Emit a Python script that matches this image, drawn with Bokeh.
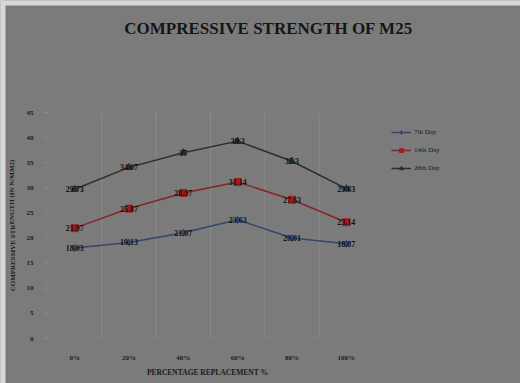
from bokeh.plotting import figure
from bokeh.models import (Range1d, Legend, LegendItem, Label,
                          ColumnDataSource, LabelSet, BoxAnnotation)
from bokeh.embed import file_html
from bokeh.resources import INLINE

categories = ["0%", "20%", "40%", "60%", "80%", "100%"]
day7 = [18.03, 19.13, 21.07, 23.63, 20.01, 18.87]
day14 = [21.97, 25.87, 28.97, 31.14, 27.63, 23.14]
day28 = [29.73, 34.07, 37.0, 39.3, 35.3, 29.83]
series_names = ["7th Day", "14th Day", "28th Day"]
y_ticks = [0, 5, 10, 15, 20, 25, 30, 35, 40, 45]

BG = "#7b7b7b"
n = len(categories)
ymax = y_ticks[-1]
xs = [i + 0.5 for i in range(n)]

W, H = 520, 383
# plot area placement on the canvas (pixels)
AL, AR, AT, AB = 47, 373, 112, 338
sx = (AR - AL) / n
sy = (AB - AT) / ymax

p = figure(width=W, height=H, output_backend="svg", toolbar_location=None,
           x_range=Range1d(-AL / sx, (W - AL) / sx),
           y_range=Range1d(-(H - AB) / sy, AB / sy),
           min_border=0)
p.axis.visible = False
p.background_fill_color = BG
p.border_fill_color = BG
p.outline_line_color = None
p.grid.grid_line_color = None

# light edge strips of the original image
p.add_layout(BoxAnnotation(left=0, right=5, bottom=0, top=H, left_units="screen",
                           right_units="screen", bottom_units="screen", top_units="screen",
                           fill_color="#d8d8d8", fill_alpha=1, line_color=None))
p.add_layout(BoxAnnotation(left=0, right=W, bottom=H - 5, top=H, left_units="screen",
                           right_units="screen", bottom_units="screen", top_units="screen",
                           fill_color="#d8d8d8", fill_alpha=1, line_color=None))

# plot-area border
p.add_layout(BoxAnnotation(left=0, right=n, bottom=0, top=ymax, fill_alpha=0,
                           line_color="#878787", line_width=1))
# category boundary gridlines
bounds = list(range(1, n))
p.segment(x0=bounds, y0=[0] * len(bounds), x1=bounds, y1=[ymax] * len(bounds),
          line_color="#898989", line_width=1)
# y tick marks
p.segment(x0=[0] * len(y_ticks), y0=y_ticks, x1=[-3 / sx] * len(y_ticks), y1=y_ticks,
          line_color="#8e8e8e", line_width=1)

# tick labels
ysrc = ColumnDataSource(dict(x=[0] * len(y_ticks), y=y_ticks, t=[str(v) for v in y_ticks]))
p.add_layout(LabelSet(x="x", y="y", text="t", source=ysrc, x_offset=-14,
                      text_align="right", text_baseline="middle",
                      text_font="Liberation Serif", text_font_size="7px",
                      text_font_style="bold", text_color="#1a1a1a"))
xsrc = ColumnDataSource(dict(x=xs, y=[0] * n, t=categories))
p.add_layout(LabelSet(x="x", y="y", text="t", source=xsrc, y_offset=-19,
                      text_align="center", text_baseline="middle",
                      text_font="Liberation Serif", text_font_size="7px",
                      text_font_style="bold", text_color="#1a1a1a"))

# axis titles
p.add_layout(Label(x=207, y=H - 372, x_units="screen", y_units="screen",
                   text="PERCENTAGE REPLACEMENT %", text_align="center",
                   text_baseline="middle", text_font="Liberation Serif",
                   text_font_size="7.5px", text_font_style="bold", text_color="#1a1a1a"))
p.add_layout(Label(x=12, y=H - 225, x_units="screen", y_units="screen",
                   text="COMPRESSIVE STRENGTH (IN N/MM2)", text_align="center",
                   text_baseline="middle", angle=1.5708, text_font="Liberation Serif",
                   text_font_size="7px", text_font_style="bold", text_color="#1a1a1a"))

colors = ["#34456e", "#8a2424", "#2b302c"]
marker_fill = ["#34456e", "#a01e1e", "#2b302c"]
markers = ["diamond", "square", "triangle"]
items = []
for name, vals, c, mf, mk in zip(series_names, [day7, day14, day28], colors, marker_fill, markers):
    src = ColumnDataSource(dict(x=xs, y=vals, t=[("%g" % v) for v in vals]))
    r1 = p.line("x", "y", source=src, line_color=c, line_width=1.5)
    r2 = p.scatter("x", "y", source=src, marker=mk, size=7, fill_color=mf, line_color=mf)
    labels = LabelSet(x="x", y="y", text="t", source=src, text_align="center",
                      text_baseline="middle", text_font="Liberation Serif",
                      text_font_size="8px", text_font_style="bold", text_color="#111111")
    p.add_layout(labels)
    items.append(LegendItem(label=name, renderers=[r1, r2]))

legend = Legend(items=items, location=(391, 210), background_fill_alpha=0,
                border_line_color=None, label_text_font="Liberation Serif",
                label_text_font_size="7px", label_text_color="#1a1a1a",
                glyph_width=20, glyph_height=10, spacing=8, label_standoff=3,
                padding=4, margin=0)
p.add_layout(legend)

p.add_layout(Label(x=268, y=H - 28, x_units="screen", y_units="screen",
                   text="COMPRESSIVE STRENGTH OF M25", text_align="center",
                   text_baseline="middle", text_font="Liberation Serif",
                   text_font_size="17px", text_font_style="bold", text_color="#151515"))

open("out.html", "w").write(file_html(p, INLINE))
